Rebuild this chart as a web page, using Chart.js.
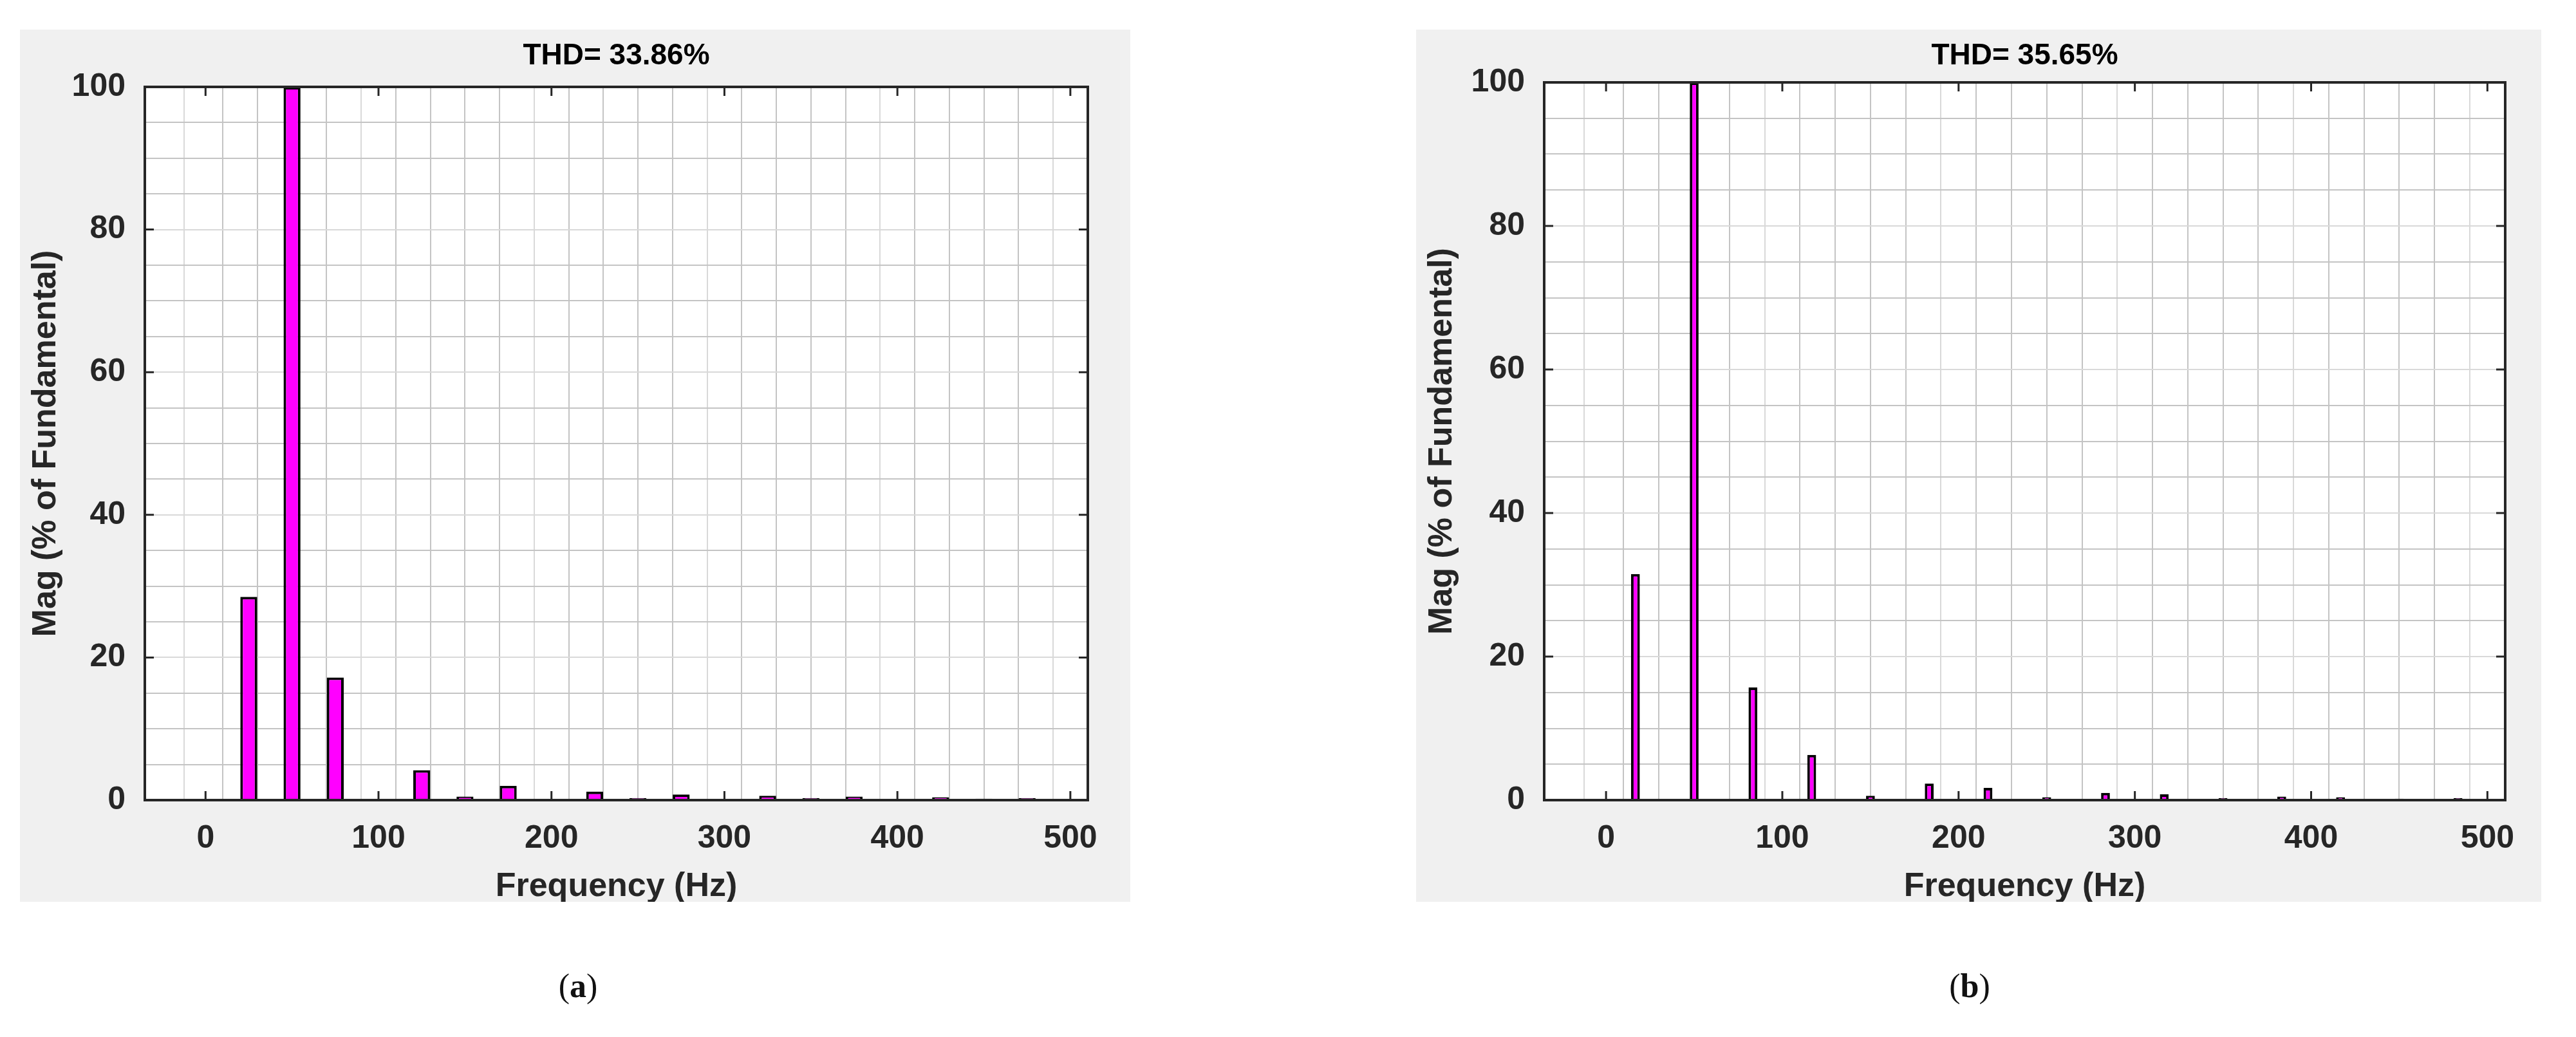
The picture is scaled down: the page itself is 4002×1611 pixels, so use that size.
<!DOCTYPE html>
<html><head><meta charset="utf-8">
<script src="https://cdn.jsdelivr.net/npm/chart.js@4"></script>
<style>
body{margin:0;background:#fff;width:4002px;height:1611px;position:relative;overflow:hidden}
.panel{position:absolute;background:#f0f0f0}
.cap{position:absolute;font-family:"Liberation Serif",serif;font-size:52px;color:#111;transform:translate(-50%,-50%)}
</style></head><body>
<div class="panel" id="pa" style="left:31px;top:46px;width:1725px;height:1355px"><canvas id="ca"></canvas></div>
<div class="panel" id="pb" style="left:2200px;top:46px;width:1748px;height:1355px"><canvas id="cb"></canvas></div>
<div class="cap" style="left:898px;top:1531px">(<b>a</b>)</div>
<div class="cap" style="left:3060px;top:1531px">(<b>b</b>)</div>
<script>
const freqA = [25,50,75,125,150,175,225,250,275,325,350,375,425,450,475];
const magA  = [28.5,100,17.2,4.2,0.5,2.0,1.2,0.3,0.8,0.6,0.3,0.5,0.4,0.2,0.3];
const freqB = [16.67,50,83.33,116.67,150,183.33,216.67,250,283.33,316.67,350,383.33,416.67,450,483.33];
const magB  = [31.5,100,15.7,6.3,0.6,2.3,1.7,0.4,1.0,0.8,0.3,0.5,0.4,0.2,0.3];
const xTickLabels = [0,100,200,300,400,500];
const yTickLabels = [0,20,40,60,80,100];
const titleA = "THD= 33.86%", titleB = "THD= 35.65%";

const FONT = '"Liberation Sans Narrow","Liberation Sans",Arial,sans-serif';
const INK = '#262626';

function makeChart(id, freqs, mags, title, pad, barPct){
  const frame = {
    id:'frame',
    beforeDraw(c){
      const a=c.chartArea, g=c.ctx;
      g.save(); g.fillStyle='#fff'; g.fillRect(a.left,a.top,a.right-a.left,a.bottom-a.top); g.restore();
    },
    afterDraw(c){
      const a=c.chartArea, g=c.ctx, xs=c.scales.x, ys=c.scales.y;
      g.save();
      g.strokeStyle=INK; g.lineWidth=4;
      g.strokeRect(a.left,a.top,a.right-a.left,a.bottom-a.top);
      g.lineWidth=3; const L=14;
      xTickLabels.forEach(v=>{const x=xs.getPixelForValue(v);
        g.beginPath();g.moveTo(x,a.bottom);g.lineTo(x,a.bottom-L);g.moveTo(x,a.top);g.lineTo(x,a.top+L);g.stroke();});
      yTickLabels.forEach(v=>{const y=ys.getPixelForValue(v);
        g.beginPath();g.moveTo(a.left,y);g.lineTo(a.left+L,y);g.moveTo(a.right,y);g.lineTo(a.right-L,y);g.stroke();});
      g.fillStyle='#000'; g.font='bold 46px '+FONT; g.textAlign='center'; g.textBaseline='middle';
      g.fillText(title,(a.left+a.right)/2,41);
      g.restore();
    }
  };
  const gridDash = ctx => (ctx.tick && Math.abs(ctx.tick.value%100)<1e-6) ? [] : [4,9];
  const gridDashY = ctx => (ctx.tick && Math.abs(ctx.tick.value%20)<1e-6) ? [] : [4,9];
  return new Chart(document.getElementById(id),{
    type:'bar',
    data:{datasets:[{data:freqs.map((f,i)=>({x:f,y:mags[i]})),
      backgroundColor:'#ff00ff',borderColor:'#000',borderWidth:4,borderSkipped:'bottom',
      barPercentage:barPct,categoryPercentage:1}]},
    options:{
      responsive:true,maintainAspectRatio:false,animation:false,
      layout:{padding:{top:pad.top,right:pad.right,left:0,bottom:0}},
      plugins:{legend:{display:false},tooltip:{enabled:false},title:{display:false}},
      scales:{
        x:{type:'linear',min:-25,max:500,
          afterFit(s){s.height=158;},
          ticks:{stepSize:20,autoSkip:false,maxRotation:0,padding:30,color:INK,
            font:{family:FONT,size:50,weight:'bold'},
            callback:v=> (Math.abs(v%100)<1e-6 && v>=0) ? String(v) : ''},
          grid:{drawTicks:false,lineWidth:2,
            color:c=>(c.tick&&Math.abs(c.tick.value%100)<1e-6)?'#d9d9d9':'#c4c4c4',
            tickBorderDash:gridDash},
          border:{display:false},
          title:{display:true,text:'Frequency (Hz)',color:INK,
            font:{family:FONT,size:52,weight:'bold',lineHeight:0.9},padding:{top:0,bottom:0}}
        },
        y:{min:0,max:100,
          afterFit(s){s.width=pad.left;},
          ticks:{stepSize:5,autoSkip:false,padding:30,color:INK,
            font:{family:FONT,size:50,weight:'bold'},
            callback:v=> (Math.abs(v%20)<1e-6) ? String(v) : ''},
          grid:{drawTicks:false,lineWidth:2,
            color:c=>(c.tick&&Math.abs(c.tick.value%20)<1e-6)?'#d9d9d9':'#c4c4c4',
            tickBorderDash:gridDashY},
          border:{display:false},
          title:{display:true,text:'Mag (% of Fundamental)',color:INK,
            font:{family:FONT,size:52,weight:'bold',lineHeight:1.2},padding:{top:9,bottom:0}}
        }
      }
    },
    plugins:[frame]
  });
}
makeChart('ca',freqA,magA,titleA,{top:89,right:66,left:194},0.49);
makeChart('cb',freqB,magB,titleB,{top:82,right:56,left:199},0.25);
</script></body></html>
